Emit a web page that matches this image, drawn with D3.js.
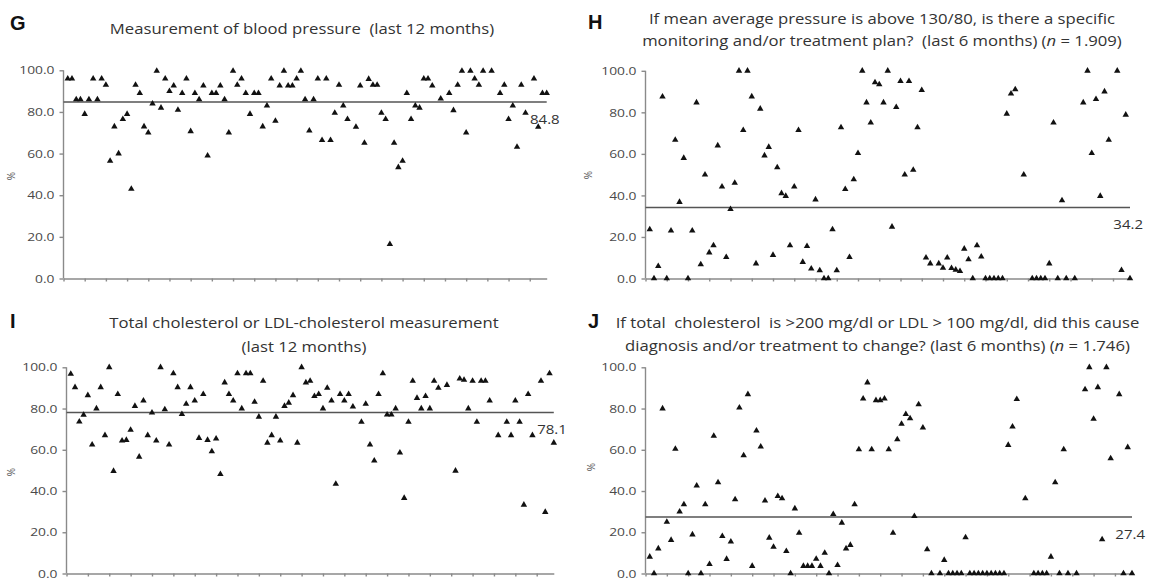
<!DOCTYPE html>
<html>
<head>
<meta charset="utf-8">
<script src="https://cdn.jsdelivr.net/npm/d3@7"></script>
<style>
body { margin: 0; background: #fff; }
text { font-family: "Open Sans", sans-serif; }
.axis path, .axis line { stroke: #8a8a8a; stroke-width: 1.4; }
.axis text { fill: #4a4a4a; font-size: 11.5px; }
</style>
</head>
<body>
<svg id="chart" width="1153" height="578"></svg>
<script>
// practice number 1..114 on the x axis (null = no data for that practice)
var practices = d3.range(1, 115);

var bpMeasured = [
  96, 96, 86, 86, 79, 86, 96, 86, 96, 93,
  56.5, 73, 60, 76.5, 79, 43, 93, 89, 73, 70,
  84, 99.7, 82, 96, 90, 92.6, 81, 89, 96, 70.7,
  89, 86, 92.6, 59, 89, 89, 92.6, 86, 70, 99.7,
  93, 96, 89, 79, 89, 89, 73, 83, 96, 75.7,
  92.6, 99.7, 92.6, 92.6, 96, 99.7, 86, 71, 86, 96,
  66.4, 96, 66.4, 79.5, 93, 83, 76.5, null, 72.8, 92.6,
  65.1, 95.8, 93, 93, 79.5, 76.5, 16.5, 65.1, 53.4, 56.5,
  89, 76.5, 83, 82, 96, 96, 92.6, null, 86.4, null,
  89, 80.8, 93, 99.7, 70, 99.7, 96, 93, 99.7, null,
  99.7, null, 89, 93, 76.5, 83, 63.2, 93, 79.5, null,
  96, 72.8, 89, 89
];

var bpPlan = [
  23.6, 0, 5.9, 87.5, 0, 23, 66.7, 36.8, 58, 0,
  23, 84.7, 6.8, 50, 12.5, 15.9, 64, 44.2, 10.3, 33.4,
  46, 100, 71.4, 100, 87.6, 7.2, 81.7, 59.2, 63.3, 11.3,
  53.5, 41, 39.7, 15.9, 44.2, 71.4, 7.9, 15.6, 4.7, 38,
  3.9, 0, 0, 23.6, 3.9, 72.7, 43, 10.3, 47.7, 60.3,
  100, 84.7, 75, 94.4, 93.4, 84.7, 100, 24.9, 82.5, 95,
  50, 95, 52.3, 72.7, 90.7, 10, 7.2, null, 7.2, 5.1,
  10, 5, 4.2, 3.5, 14.3, 9.2, 0, 15.9, 10.5, 0,
  0, 0, 0, 0, 79.3, 89, 91, null, 50, null,
  0, 0, 0, 0, 7.2, 75, 0, 37.6, 0, null,
  0, null, 84.7, 100, 60.3, 86.3, 39.7, 90, 66.7, null,
  100, 4, 78.8, 0
];

var cholMeasured = [
  96.8, 90.3, 73.6, 76.9, 86.4, 62.5, 80, 90.3, 67, 100,
  49.7, 87, 64.4, 64.7, 69.6, 81.2, 56.6, 83.8, 67, 78,
  64.4, 100, 79.6, 62.5, 97, 90.3, 77.3, 82.2, 90.3, 83.8,
  65.7, 87, 64.7, 59.2, 65.4, 48.2, 92.6, 87, 83.8, 97,
  80, 97, 97, 83.2, 76, 93.4, 63.4, 67, 76, 64.4,
  81.2, 82.8, 86.4, 63.4, 100, 92.6, 93.4, 86, 87, 80,
  90, 83.8, 43.4, 87, 83.8, 87, 80.9, null, 73.5, 82.2,
  62.5, 54.7, 87, 97, 77, 77, 80, 58.6, 36.6, 73.5,
  93.4, 85.1, 80, 86, 80, 93.4, 90, null, 91.4, null,
  49.8, 94.5, 93.9, 80, 93.4, 73.5, 93.4, 93.4, 83.8, null,
  67, null, 73.5, 67, 83.8, 73.5, 33.3, 87, 67, null,
  93.4, 29.8, 97, 63.4
];

var cholChange = [
  8.1, 0, 12.1, 80, 25, 16.2, 60.4, 30, 33.5, 0,
  18.9, 42.6, 0, 33.5, 4.5, 66.7, 44.2, 18.1, 7, 15.4,
  35.9, 80.4, 57.3, 86.9, 3.6, 69.3, 61.5, 35.3, 17.3, 12.9,
  37.5, 36.4, 10.8, 0, 31.5, 19.7, 3.6, 3.6, 3.6, 7.1,
  3.6, 10, 0, 28.8, 4, 24.6, 12.1, 13.8, 33.5, 60.2,
  84.8, 92.6, 60.2, 84, 84, 84.8, 60.2, 19.7, 65, 72.5,
  77.3, 75.2, 27.8, 82, 70.7, 11.7, 0, null, 0, 6.5,
  0, 0, 0, 0, 17.5, 0, 0, 0, 0, 0,
  0, 0, 0, 0, 62.3, 71.2, 84.5, null, 36.4, null,
  0, 0, 0, 0, 8.1, 44.2, 0, 60.2, 0, null,
  0, null, 89.3, 100, 75, 90.3, 16.5, 100, 55.8, null,
  86.9, 0, 61.2, 0
];

var meanValues = [84.8, 34.2, 78.1, 27.4];
var yTicks = [0, 20, 40, 60, 80, 100];
var xTicks = d3.range(0, 111, 5);
var letters = ["G", "H", "I", "J"];
var titles = [
  ["Measurement of blood pressure  (last 12 months)"],
  ["If mean average pressure is above 130/80, is there a specific",
   "monitoring and/or treatment plan?  (last 6 months) (n = 1.909)"],
  ["Total cholesterol or LDL-cholesterol measurement",
   "(last 12 months)"],
  ["If total  cholesterol  is >200 mg/dl or LDL > 100 mg/dl, did this cause",
   "diagnosis and/or treatment to change? (last 6 months) (n = 1.746)"]
];
var series = [bpMeasured, bpPlan, cholMeasured, cholChange];

// layout of the four panels
var layout = [
  { x0: 63.5, x1: 546.7, y0: 278.5, y1: 70.3, tx: 302, ty: [34], lx: 10, ly: 30, px: 15, py: 176 },
  { x0: 645.5, x1: 1130, y0: 278.5, y1: 70.8, tx: 882, ty: [24, 46], lx: 588, ly: 29, px: 592, py: 175 },
  { x0: 66.5, x1: 553.8, y0: 573.5, y1: 367.3, tx: 304, ty: [328, 352], lx: 10, ly: 328, px: 15, py: 472 },
  { x0: 645.5, x1: 1132, y0: 573.5, y1: 367.3, tx: 877.5, ty: [328, 351], lx: 588, ly: 328, px: 595, py: 467 }
];

var svg = d3.select("#chart");

function stretch(sel, k) {
  sel.each(function () {
    var w = this.getComputedTextLength();
    d3.select(this).attr("textLength", w * k).attr("lengthAdjust", "spacingAndGlyphs");
  });
}

var tri = d3.symbol().type(d3.symbolTriangle).size(18);

layout.forEach(function (p, i) {
  var x = d3.scaleLinear().domain([0, 114]).range([p.x0, p.x1]);
  var y = d3.scaleLinear().domain([0, 100]).range([p.y0, p.y1]);
  var g = svg.append("g");

  // panel letter
  g.append("text")
    .attr("x", p.lx).attr("y", p.ly)
    .style("font-family", "'Liberation Sans', Arial, sans-serif")
    .style("font-weight", "bold").style("font-size", "20px")
    .attr("fill", "#111")
    .text(letters[i]);

  // title lines, "n" in italics
  titles[i].forEach(function (line, j) {
    var t = g.append("text")
      .attr("x", p.tx).attr("y", p.ty[j])
      .attr("text-anchor", "middle")
      .style("font-size", "14.5px").style("white-space", "pre")
      .attr("fill", "#333");
    var parts = line.split("(n =");
    t.append("tspan").text(parts[0]);
    if (parts.length > 1) {
      t.append("tspan").text("(");
      t.append("tspan").style("font-style", "italic").text("n");
      t.append("tspan").text(" =" + parts[1]);
    }
    stretch(t, 1.15);
  });

  // axes
  var ya = g.append("g").attr("class", "axis")
    .attr("transform", "translate(" + p.x0 + ",0)")
    .call(d3.axisLeft(y).tickValues(yTicks).tickFormat(d3.format(".1f")).tickSize(4).tickSizeOuter(0).tickPadding(5));
  ya.select(".domain").attr("d", "M0," + p.y1 + "V" + p.y0);
  // the original's labels are horizontally stretched
  ya.selectAll(".tick text")
    .attr("x", 0)
    .attr("text-anchor", "end")
    .attr("transform", "translate(-9,0) scale(1.2,1)");

  g.append("g").attr("class", "axis")
    .attr("transform", "translate(0," + p.y0 + ")")
    .call(d3.axisBottom(x).tickValues(xTicks).tickFormat("").tickSize(3).tickSizeOuter(0));

  // % label
  g.append("text")
    .attr("transform", "translate(" + p.px + "," + p.py + ") rotate(-90)")
    .attr("text-anchor", "middle")
    .style("font-size", "10px").attr("fill", "#555")
    .text("%");

  // mean line
  g.append("line")
    .attr("x1", x(0)).attr("x2", x(114))
    .attr("y1", y(meanValues[i])).attr("y2", y(meanValues[i]))
    .attr("stroke", "#555").attr("stroke-width", 1.5);

  // points
  var pts = practices.map(function (d, k) { return { id: d, v: series[i][k] }; })
    .filter(function (d) { return d.v !== null; });
  g.selectAll("path.pt").data(pts).enter().append("path")
    .attr("class", "pt")
    .attr("d", tri)
    .attr("transform", function (d) { return "translate(" + x(d.id) + "," + y(d.v) + ")"; })
    .attr("fill", "#111");

  // mean value label
  g.append("text")
    .attr("text-anchor", "end")
    .attr("transform", "translate(" + (x(114) + 13) + "," + (y(meanValues[i]) + 22) + ") scale(1.2,1)")
    .style("font-size", "12.5px").attr("fill", "#333")
    .text(meanValues[i].toFixed(1));
});
</script>
</body>
</html>
